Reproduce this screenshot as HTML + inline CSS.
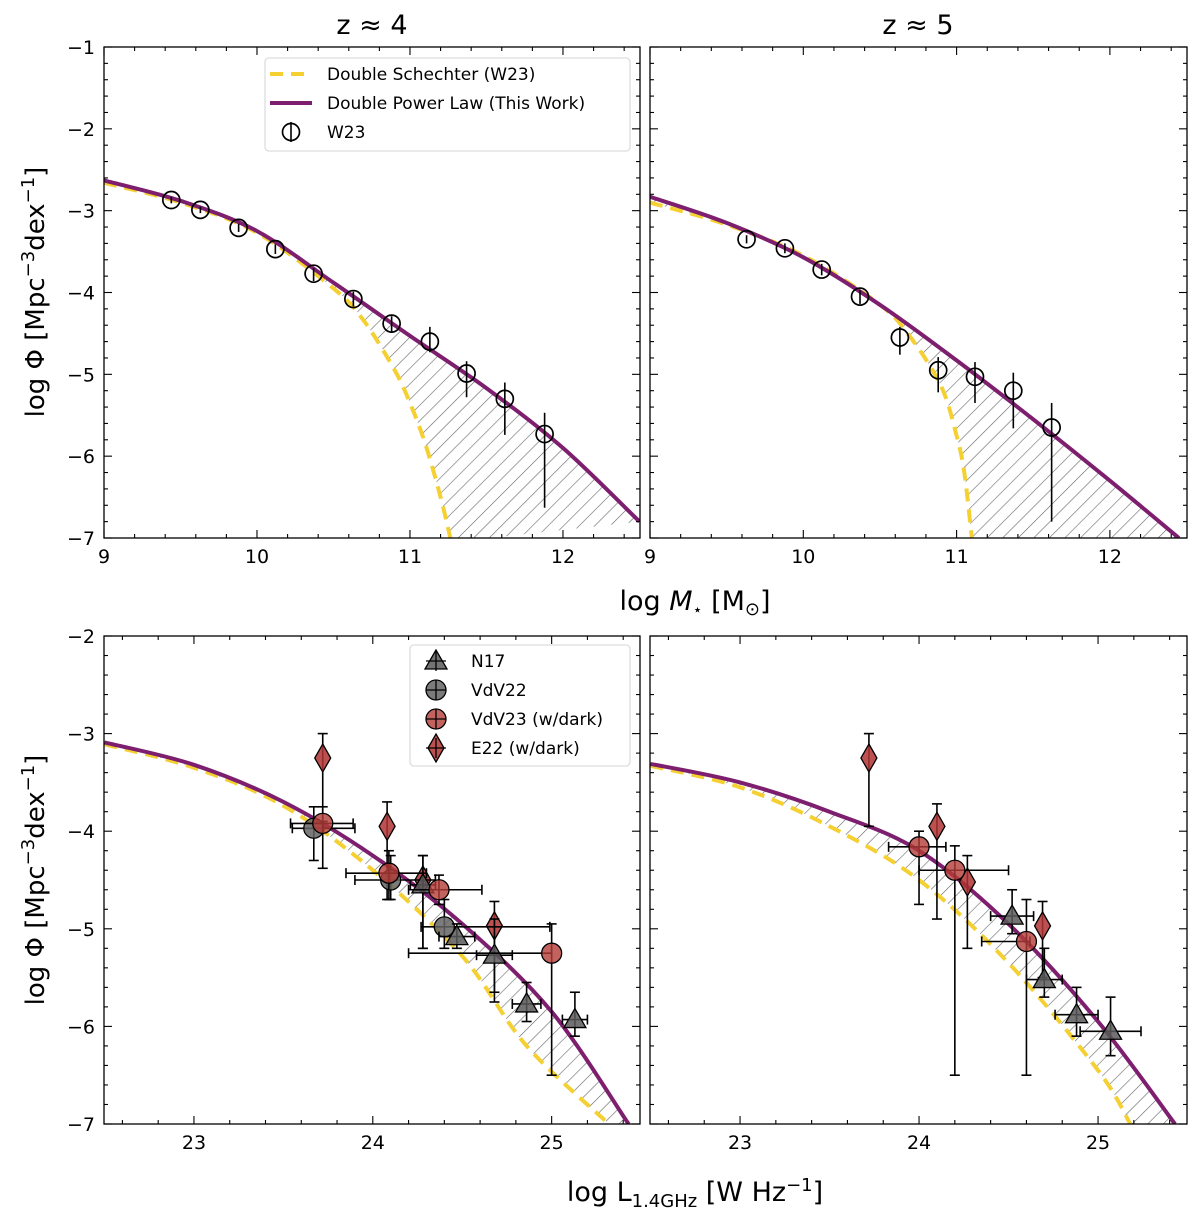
<!DOCTYPE html>
<html><head><meta charset="utf-8"><style>
html,body{margin:0;padding:0;background:#fff;}
svg{display:block;font-family:"DejaVu Sans","Liberation Sans",sans-serif;}
</style></head><body>
<svg id="fig" width="1200" height="1226" viewBox="0 0 1200 1226" xmlns="http://www.w3.org/2000/svg">
<defs>
<pattern id="hatch" patternUnits="userSpaceOnUse" width="11" height="11" patternTransform="rotate(45)">
<line x1="0" y1="0" x2="0" y2="11" stroke="#666" stroke-width="1.2"/>
</pattern>
</defs>
<g id="root"></g>
</svg>
<script>
// ---------- DATA ----------
const tlDplX = [9, 9.5, 10, 10.5, 11, 11.5, 12, 12.5];
const tlDplY = [-2.63, -2.88, -3.25, -3.88, -4.53, -5.17, -5.9, -6.8];
const tlSchX = [9, 9.5, 10, 10.5, 10.7, 10.9, 11.0, 11.1, 11.2, 11.27];
const tlSchY = [-2.66, -2.9, -3.27, -3.95, -4.35, -4.95, -5.35, -5.85, -6.5, -7.05];
const tlW23X = [9.44, 9.63, 9.88, 10.12, 10.37, 10.63, 10.88, 11.13, 11.37, 11.62, 11.88];
const tlW23Y = [-2.87, -2.99, -3.21, -3.47, -3.77, -4.08, -4.38, -4.6, -4.99, -5.3, -5.73];
const tlW23Hi = [-2.83, -2.95, -3.16, -3.41, -3.7, -3.99, -4.29, -4.42, -4.84, -5.1, -5.47];
const tlW23Lo = [-2.91, -3.03, -3.26, -3.53, -3.86, -4.17, -4.48, -4.73, -5.28, -5.74, -6.63];
const trDplX = [9, 9.5, 10, 10.5, 11, 11.5, 12, 12.45];
const trDplY = [-2.83, -3.15, -3.57, -4.15, -4.83, -5.55, -6.3, -7.0];
const trSchX = [9, 9.5, 10, 10.5, 10.7, 10.9, 11.0, 11.05, 11.1];
const trSchY = [-2.9, -3.17, -3.55, -4.15, -4.55, -5.15, -5.75, -6.2, -7.0];
const trW23X = [9.63, 9.88, 10.12, 10.37, 10.63, 10.88, 11.12, 11.37, 11.62];
const trW23Y = [-3.35, -3.46, -3.72, -4.05, -4.55, -4.95, -5.03, -5.2, -5.65];
const trW23Hi = [-3.3, -3.4, -3.65, -3.97, -4.42, -4.79, -4.85, -4.98, -5.35];
const trW23Lo = [-3.4, -3.52, -3.79, -4.14, -4.76, -5.22, -5.35, -5.66, -6.8];
const blDplX = [22.5, 23, 23.5, 24, 24.5, 25, 25.43];
const blDplY = [-3.09, -3.32, -3.7, -4.25, -4.95, -5.85, -7.0];
const blSchX = [22.5, 23, 23.5, 24, 24.5, 24.86, 25.32];
const blSchY = [-3.11, -3.35, -3.74, -4.4, -5.28, -6.2, -7.0];
const blN17X = [24.28, 24.47, 24.68, 24.86, 25.13];
const blN17Y = [-4.55, -5.08, -5.27, -5.77, -5.93];
const blN17Xe = [0.07, 0.1, 0.1, 0.08, 0.07];
const blN17Hi = [-4.25, -4.95, -4.9, -5.55, -5.65];
const blN17Lo = [-5.2, -5.2, -5.65, -5.95, -6.1];
const blV22X = [23.67, 24.1, 24.4];
const blV22Y = [-3.97, -4.5, -4.98];
const blV22Xlo = [23.55, 23.9, 24.27];
const blV22Xhi = [23.9, 24.35, 24.99];
const blV22Hi = [-3.75, -4.25, -4.7];
const blV22Lo = [-4.3, -4.7, -5.2];
const blV23X = [23.72, 24.09, 24.37, 25.0];
const blV23Y = [-3.92, -4.43, -4.6, -5.25];
const blV23Xlo = [23.54, 23.85, 24.2, 24.2];
const blV23Xhi = [23.89, 24.3, 24.61, 25.0];
const blV23Hi = [-3.75, -4.2, -4.45, -4.95];
const blV23Lo = [-4.38, -4.7, -4.75, -6.5];
const blE22X = [23.72, 24.08, 24.28, 24.68];
const blE22Y = [-3.25, -3.95, -4.5, -4.97];
const blE22Hi = [-3.0, -3.7, -4.25, -4.72];
const blE22Lo = [-3.9, -4.7, -5.2, -5.75];
const brDplX = [22.5, 23, 23.5, 24, 24.5, 25, 25.43];
const brDplY = [-3.31, -3.5, -3.8, -4.2, -4.95, -5.95, -7.0];
const brSchX = [22.5, 23, 23.5, 24, 24.5, 25, 25.18];
const brSchY = [-3.33, -3.55, -3.95, -4.5, -5.35, -6.45, -7.0];
const brN17X = [24.52, 24.7, 24.88, 25.07];
const brN17Y = [-4.87, -5.52, -5.88, -6.05];
const brN17Xe = [0.12, 0.1, 0.12, 0.17];
const brN17Hi = [-4.6, -5.2, -5.6, -5.7];
const brN17Lo = [-5.05, -5.7, -6.1, -6.3];
const brV23X = [24.0, 24.2, 24.6];
const brV23Y = [-4.16, -4.4, -5.13];
const brV23Xlo = [23.83, 24.0, 24.35];
const brV23Xhi = [24.15, 24.5, 24.62];
const brV23Hi = [-4.0, -4.15, -4.7];
const brV23Lo = [-4.75, -6.5, -6.5];
const brE22X = [23.72, 24.1, 24.27, 24.69];
const brE22Y = [-3.25, -3.95, -4.52, -4.97];
const brE22Hi = [-3.0, -3.72, -4.25, -4.72];
const brE22Lo = [-3.95, -4.9, -5.2, -5.5];
const topTicksX = [9, 10, 11, 12];
const topTicksY = [-1, -2, -3, -4, -5, -6, -7];
const botTicksX = [23, 24, 25];
const botTicksY = [-2, -3, -4, -5, -6, -7];

// ---------- DRAWING ----------
const NS = "http://www.w3.org/2000/svg";
const root = document.getElementById('root');
function mk(tag, attrs, parent) {
  const e = document.createElementNS(NS, tag);
  for (const k in attrs) e.setAttribute(k, attrs[k]);
  (parent || root).appendChild(e);
  return e;
}
function panel(name, L, T, R, B, x0, x1, y0, y1) {
  const g = mk('g', {});
  
  
  const sx = v => L + (v - x0) / (x1 - x0) * (R - L);
  const sy = v => T + (y1 - v) / (y1 - y0) * (B - T);
  const cid = 'clip-' + name;
  const cp = mk('clipPath', { id: cid }, g);
  mk('rect', { x: L, y: T, width: R - L, height: B - T }, cp);
  const plot = mk('g', { 'clip-path': 'url(#' + cid + ')' }, g);
  return { g, plot, sx, sy, L, T, R, B, x0, x1, y0, y1 };
}
function axes(p, xt, yt, showY, minorStep) {
  const fr = mk('rect', { x: p.L, y: p.T, width: p.R - p.L, height: p.B - p.T, fill: 'none', stroke: '#000', 'stroke-width': 1.3 }, p.g);
  
  
  const tk = mk('g', { stroke: '#000', 'stroke-width': 1.1 }, p.g);
  for (let v = Math.ceil(p.x0 / minorStep) * minorStep; v <= p.x1 + 1e-9; v += minorStep) {
    const X = p.sx(v);
    const major = Math.abs(v - Math.round(v)) < 1e-6;
    const len = major ? 8 : 4;
    mk('line', { x1: X, y1: p.B, x2: X, y2: p.B - len }, tk);
    mk('line', { x1: X, y1: p.T, x2: X, y2: p.T + len }, tk);
  }
  for (let v = Math.ceil(p.y0 / minorStep) * minorStep; v <= p.y1 + 1e-9; v += minorStep) {
    const Y = p.sy(v);
    const major = Math.abs(v - Math.round(v)) < 1e-6;
    const len = major ? 8 : 4;
    mk('line', { x1: p.L, y1: Y, x2: p.L + len, y2: Y }, tk);
    mk('line', { x1: p.R, y1: Y, x2: p.R - len, y2: Y }, tk);
  }
  xt.forEach(v => {
    const t = mk('text', { x: p.sx(v), y: p.B + 25, 'font-size': 19, 'text-anchor': 'middle' }, p.g);
    t.textContent = v;
    
    
  });
  if (showY) yt.forEach(v => {
    const t = mk('text', { x: p.L - 9, y: p.sy(v) + 7, 'font-size': 19, 'text-anchor': 'end' }, p.g);
    t.textContent = '\u2212' + Math.abs(v);
    
    
  });
}
function pxPts(p, xs, ys) { return xs.map((x, i) => [p.sx(x), p.sy(ys[i])]); }
// Catmull-Rom smoothing into cubic Bezier path segments
function smoothD(P, move) {
  let d = (move ? 'M' : 'L') + P[0][0].toFixed(1) + ',' + P[0][1].toFixed(1);
  for (let i = 0; i < P.length - 1; i++) {
    const p0 = P[Math.max(0, i - 1)], p1 = P[i], p2 = P[i + 1], p3 = P[Math.min(P.length - 1, i + 2)];
    const c1 = [p1[0] + (p2[0] - p0[0]) / 6, p1[1] + (p2[1] - p0[1]) / 6];
    const c2 = [p2[0] - (p3[0] - p1[0]) / 6, p2[1] - (p3[1] - p1[1]) / 6];
    d += ' C' + c1.map(v => v.toFixed(1)).join(',') + ' ' + c2.map(v => v.toFixed(1)).join(',') + ' ' + p2.map(v => v.toFixed(1)).join(',');
  }
  return d;
}
function curves(p, dx, dy, sxa, sya) {
  const D = pxPts(p, dx, dy), S = pxPts(p, sxa, sya);
  const hd = smoothD(D, true) + ' ' + smoothD(S.slice().reverse(), false) + ' Z';
  const h = mk('path', { d: hd, fill: 'url(#hatch)', stroke: 'none' }, p.plot);
  
  
  const s = mk('path', { d: smoothD(S, true), fill: 'none', stroke: '#f5d033', 'stroke-width': 4, 'stroke-dasharray': '13,8' }, p.plot);
  
  
  const d = mk('path', { d: smoothD(D, true), fill: 'none', stroke: '#7d1f6e', 'stroke-width': 4, 'stroke-linejoin': 'round' }, p.plot);
  
  
}
function vbar(par, X, Ya, Yb, cap) {
  mk('line', { x1: X, y1: Ya, x2: X, y2: Yb, stroke: '#000', 'stroke-width': 1.6 }, par);
  if (cap) { mk('line', { x1: X - 5, y1: Ya, x2: X + 5, y2: Ya, stroke: '#000', 'stroke-width': 1.6 }, par); mk('line', { x1: X - 5, y1: Yb, x2: X + 5, y2: Yb, stroke: '#000', 'stroke-width': 1.6 }, par); }
}
function hbar(par, Y, Xa, Xb) {
  mk('line', { x1: Xa, y1: Y, x2: Xb, y2: Y, stroke: '#000', 'stroke-width': 1.6 }, par);
  mk('line', { x1: Xa, y1: Y - 5, x2: Xa, y2: Y + 5, stroke: '#000', 'stroke-width': 1.6 }, par);
  mk('line', { x1: Xb, y1: Y - 5, x2: Xb, y2: Y + 5, stroke: '#000', 'stroke-width': 1.6 }, par);
}
function w23(p, xs, ys, hi, lo) {
  xs.forEach((x, i) => {
    const g = mk('g', {}, p.plot);
    
    
    const X = p.sx(x), Y = p.sy(ys[i]);
    vbar(g, X, p.sy(hi[i]), p.sy(lo[i]), false);
    mk('circle', { cx: X, cy: Y, r: 8.5, fill: 'none', stroke: '#000', 'stroke-width': 1.7 }, g);
  });
}
function marker(g, kind, X, Y) {
  if (kind === 'tri') mk('polygon', { points: `${X},${Y - 11} ${X - 11},${Y + 8} ${X + 11},${Y + 8}`, fill: 'rgba(90,90,90,0.85)', stroke: '#000', 'stroke-width': 1.3 }, g);
  else if (kind === 'gcirc') mk('circle', { cx: X, cy: Y, r: 10, fill: 'rgba(100,100,100,0.85)', stroke: '#000', 'stroke-width': 1.3 }, g);
  else if (kind === 'rcirc') mk('circle', { cx: X, cy: Y, r: 10, fill: 'rgba(180,60,55,0.8)', stroke: '#000', 'stroke-width': 1.3 }, g);
  else if (kind === 'dia') mk('polygon', { points: `${X},${Y - 14} ${X + 8},${Y} ${X},${Y + 14} ${X - 8},${Y}`, fill: 'rgba(175,50,50,0.85)', stroke: '#000', 'stroke-width': 1.3 }, g);
}
function series(p, kind, name, xs, ys, xlo, xhi, hi, lo) {
  xs.forEach((x, i) => {
    const g = mk('g', {}, p.plot);
    
    
    const X = p.sx(x), Y = p.sy(ys[i]);
    vbar(g, X, p.sy(hi[i]), p.sy(lo[i]), true);
    if (xlo) hbar(g, Y, p.sx(xlo[i]), p.sx(xhi[i]));
    marker(g, kind, X, Y);
  });
}
function txt(x, y, s, size, attrs, name) {
  const t = mk('text', Object.assign({ x, y, 'font-size': size }, attrs || {}));
  t.textContent = s;
  
  
  return t;
}

const tl = panel('panel-mass-z4', 104, 47, 640, 538, 9, 12.5035, -7, -1);
curves(tl, tlDplX, tlDplY, tlSchX, tlSchY);
w23(tl, tlW23X, tlW23Y, tlW23Hi, tlW23Lo);
axes(tl, topTicksX, topTicksY, true, 0.2);
const tr = panel('panel-mass-z5', 650, 47, 1187, 538, 9, 12.503, -7, -1);
curves(tr, trDplX, trDplY, trSchX, trSchY);
w23(tr, trW23X, trW23Y, trW23Hi, trW23Lo);
axes(tr, topTicksX, topTicksY, false, 0.2);
const bl = panel('panel-radio-z4', 104, 636, 640, 1124, 22.497, 25.494, -7, -2);
curves(bl, blDplX, blDplY, blSchX, blSchY);
series(bl, 'dia', 'e22-point', blE22X, blE22Y, null, null, blE22Hi, blE22Lo);
series(bl, 'gcirc', 'vdv22-point', blV22X, blV22Y, blV22Xlo, blV22Xhi, blV22Hi, blV22Lo);
series(bl, 'tri', 'n17-point', blN17X, blN17Y, blN17X.map((v, i) => v - blN17Xe[i]), blN17X.map((v, i) => v + blN17Xe[i]), blN17Hi, blN17Lo);
series(bl, 'rcirc', 'vdv23-point', blV23X, blV23Y, blV23Xlo, blV23Xhi, blV23Hi, blV23Lo);
axes(bl, botTicksX, botTicksY, true, 0.2);
const br = panel('panel-radio-z5', 650, 636, 1187, 1124, 22.497, 25.497, -7, -2);
curves(br, brDplX, brDplY, brSchX, brSchY);
series(br, 'dia', 'e22-point', brE22X, brE22Y, null, null, brE22Hi, brE22Lo);
series(br, 'tri', 'n17-point', brN17X, brN17Y, brN17X.map((v, i) => v - brN17Xe[i]), brN17X.map((v, i) => v + brN17Xe[i]), brN17Hi, brN17Lo);
series(br, 'rcirc', 'vdv23-point', brV23X, brV23Y, brV23Xlo, brV23Xhi, brV23Hi, brV23Lo);
axes(br, botTicksX, [], false, 0.2);

txt(372, 34, 'z \u2248 4', 27, { 'text-anchor': 'middle' }, 'title-z4');
txt(918, 34, 'z \u2248 5', 27, { 'text-anchor': 'middle' }, 'title-z5');
const yl1 = txt(0, 0, '', 26, { 'text-anchor': 'middle', transform: 'translate(44,292) rotate(-90)' }, 'y-axis-title-top');
yl1.innerHTML = 'log \u03A6 [Mpc<tspan dy="-10" font-size="18">\u22123</tspan><tspan dy="10">dex</tspan><tspan dy="-10" font-size="18">\u22121</tspan><tspan dy="10">]</tspan>';
const yl2 = txt(0, 0, '', 26, { 'text-anchor': 'middle', transform: 'translate(44,880) rotate(-90)' }, 'y-axis-title-bottom');
yl2.innerHTML = 'log \u03A6 [Mpc<tspan dy="-10" font-size="18">\u22123</tspan><tspan dy="10">dex</tspan><tspan dy="-10" font-size="18">\u22121</tspan><tspan dy="10">]</tspan>';
const xl1 = txt(695, 610, '', 27, { 'text-anchor': 'middle' }, 'x-axis-title-mass');
xl1.innerHTML = 'log <tspan font-style="italic">M</tspan><tspan font-size="16" dy="5">\u22C6</tspan><tspan dy="-5"> [M</tspan><tspan font-size="18" dy="5">\u2299</tspan><tspan dy="-5">]</tspan>';
const xl2 = txt(695, 1201, '', 27, { 'text-anchor': 'middle' }, 'x-axis-title-luminosity');
xl2.innerHTML = 'log L<tspan font-size="18" dy="6">1.4GHz</tspan><tspan dy="-6"> [W Hz</tspan><tspan dy="-10" font-size="18">\u22121</tspan><tspan dy="10">]</tspan>';

const lg1 = mk('g', {});


mk('rect', { x: 265, y: 58, width: 365, height: 93, rx: 4, fill: '#fff', stroke: '#ddd', 'stroke-width': 1.3 }, lg1);
mk('line', { x1: 270, y1: 74, x2: 312, y2: 74, stroke: '#f5d033', 'stroke-width': 4, 'stroke-dasharray': '13,8' }, lg1);
mk('line', { x1: 270, y1: 103, x2: 312, y2: 103, stroke: '#7d1f6e', 'stroke-width': 4 }, lg1);
mk('circle', { cx: 291, cy: 132, r: 8.5, fill: 'none', stroke: '#000', 'stroke-width': 1.7 }, lg1);
mk('line', { x1: 291, y1: 122, x2: 291, y2: 142, stroke: '#000', 'stroke-width': 1.6 }, lg1);
[['Double Schechter (W23)', 80], ['Double Power Law (This Work)', 109], ['W23', 138]].forEach(([s, y]) => {
  const t = mk('text', { x: 327, y, 'font-size': 17 }, lg1); t.textContent = s;
  
  
});
const lg2 = mk('g', {});


mk('rect', { x: 410, y: 645, width: 220, height: 121, rx: 4, fill: '#fff', stroke: '#ddd', 'stroke-width': 1.3 }, lg2);
[['tri', 'N17', 661], ['gcirc', 'VdV22', 690], ['rcirc', 'VdV23 (w/dark)', 719], ['dia', 'E22 (w/dark)', 748]].forEach(([k, s, y]) => {
  const g = mk('g', {}, lg2);
  
  
  marker(g, k, 436, y);
  mk('line', { x1: 436, y1: y - 10, x2: 436, y2: y + 10, stroke: '#000', 'stroke-width': 1.3 }, g);
  mk('line', { x1: 426, y1: y, x2: 446, y2: y, stroke: '#000', 'stroke-width': 1.3 }, g);
  const t = mk('text', { x: 471, y: y + 6, 'font-size': 17 }, g); t.textContent = s;
});
</script>
</body></html>
